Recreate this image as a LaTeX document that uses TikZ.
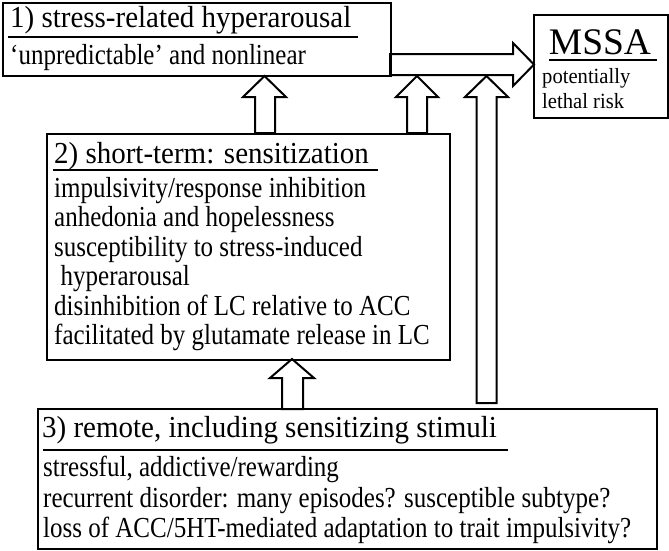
\documentclass[tikz,border=0pt]{standalone}
\usepackage{graphicx}
\usepackage{fontspec}
\setmainfont{Liberation Serif}
\newcommand{\bodysq}[1]{\scalebox{0.862}[1]{#1}}
\newcommand{\titlesq}[1]{\scalebox{0.95}[1]{#1}}
\newcommand{\smallsq}[1]{\scalebox{0.95}[1]{#1}}
\begin{document}
\begin{tikzpicture}[x=1pt,y=-1pt,
  box/.style={draw, line width=2.2pt, inner sep=0pt, anchor=north west},
  txt/.style={anchor=base west, inner sep=0pt},
  ttl/.style={txt, font=\fontsize{30.5}{34}\selectfont},
  bdy/.style={txt, font=\fontsize{29}{33}\selectfont},
  sml/.style={txt, font=\fontsize{21.7}{25}\selectfont},
  uline/.style={line width=2.6pt},
  barrow/.style={draw, line width=2pt, fill=white, line join=miter}]
\useasboundingbox (0,0) rectangle (669,550);

% block arrows (drawn first)
\draw[barrow] (390,54) -- (513,54) -- (513,43) -- (534,64.5) -- (513,86) -- (513,75) -- (390,75) -- cycle;
\draw[barrow] (255,133) -- (255,97) -- (243,97) -- (264.5,76) -- (286,97) -- (275,97) -- (275,133) -- cycle;
\draw[barrow] (407,133) -- (407,97) -- (396,97) -- (417,76) -- (438,97) -- (427,97) -- (427,133) -- cycle;
\draw[barrow] (476.5,403) -- (476.5,97) -- (465,97) -- (486.5,76) -- (508,97) -- (496.5,97) -- (496.5,403) -- cycle;
\draw[barrow] (282,409) -- (282,378) -- (270,378) -- (292,359) -- (314,378) -- (303,378) -- (303,409) -- cycle;

% boxes
\node[box, minimum width=388pt, minimum height=73pt] (b1) at (2,2) {};
\node[box, minimum width=134pt, minimum height=103pt] (m) at (533,14) {};
\node[box, minimum width=403pt, minimum height=226pt] (b2) at (46,133) {};
\node[box, minimum width=619pt, minimum height=140pt] (b3) at (37,408) {};

% box 1
\node[ttl] (t1) at (10,27) {\titlesq{1) stress-related hyperarousal}};
\draw[uline] (8,37) -- (358,37);
\node[bdy] (s1) at (10,64) {\bodysq{‘unpredictable’ and nonlinear}};

% MSSA
\node[anchor=base, inner sep=0pt, font=\fontsize{37.5}{40}\selectfont] (tm) at (600,54.5) {MSSA};
\draw[uline] (549,60) -- (657,60);
\node[sml] (m1) at (542,83) {\smallsq{potentially}};
\node[sml] (m2) at (542,108) {\smallsq{lethal risk}};

% box 2
\node[ttl] (t2) at (54,163) {\titlesq{2) short-term: sensitization}};
\draw[uline] (53,170) -- (378,170);
\node[bdy] (l21) at (54,197) {\bodysq{impulsivity/response inhibition}};
\node[bdy] (l22) at (54,226.5) {\bodysq{anhedonia and hopelessness}};
\node[bdy] (l23) at (54,256) {\bodysq{susceptibility to stress-induced}};
\node[bdy] (l24) at (60.5,285.5) {\bodysq{hyperarousal}};
\node[bdy] (l25) at (54,315) {\bodysq{disinhibition of LC relative to ACC}};
\node[bdy] (l26) at (54,344.5) {\bodysq{facilitated by glutamate release in LC}};

% box 3
\node[ttl] (t3) at (42,437) {\titlesq{3) remote, including sensitizing stimuli}};
\draw[uline] (43,450) -- (508,450);
\node[bdy] (l31) at (43,476) {\bodysq{stressful, addictive/rewarding}};
\node[bdy] (l32) at (43,507) {\bodysq{recurrent disorder: many episodes? susceptible subtype?}};
\node[bdy] (l33) at (43,537) {\bodysq{loss of ACC/5HT-mediated adaptation to trait impulsivity?}};
\end{tikzpicture}
\end{document}
